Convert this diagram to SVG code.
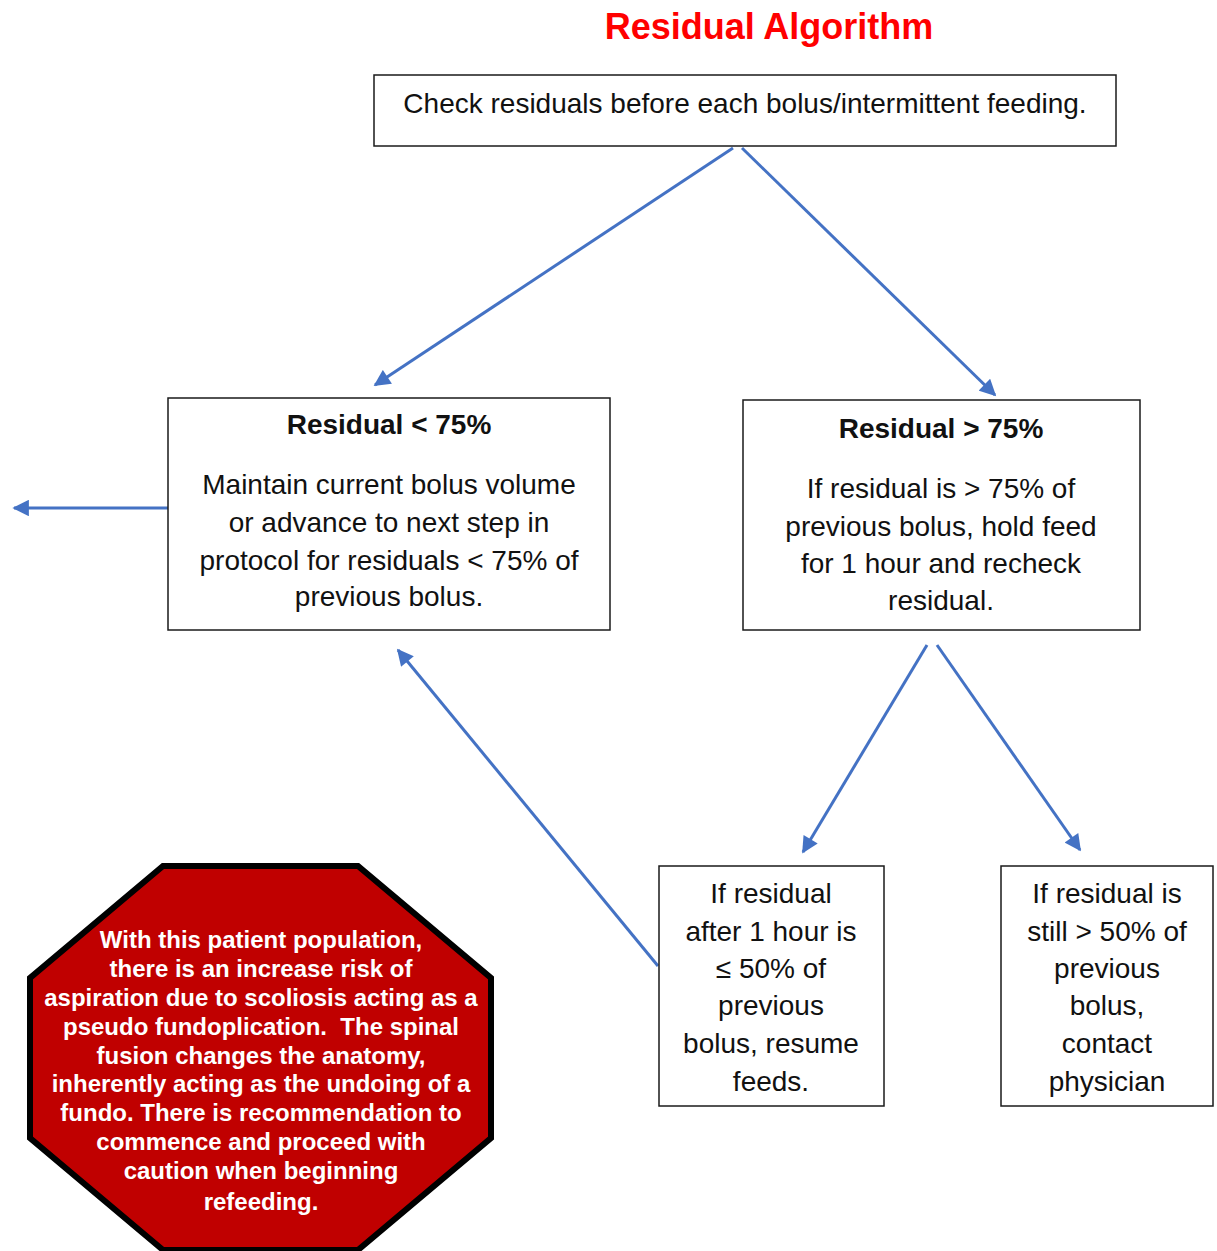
<svg xmlns="http://www.w3.org/2000/svg" width="1217" height="1251" viewBox="0 0 1217 1251">
<style>
.box{fill:#fff;stroke:#1a1a1a;stroke-width:1.5}
.t{font-family:"Liberation Sans",Arial,sans-serif;font-size:28px;fill:#111;text-anchor:middle}
.b{font-weight:bold}
.w{font-family:"Liberation Sans",Arial,sans-serif;font-size:24px;font-weight:bold;fill:#fff;text-anchor:middle}
.c{stroke:#4472C4;stroke-width:3;fill:none;marker-end:url(#ah)}
</style>
<defs>
<marker id="ah" viewBox="0 0 10 10" refX="9" refY="5" markerWidth="6" markerHeight="5.5" orient="auto" markerUnits="strokeWidth">
<path d="M0,0 L10,5 L0,10 z" fill="#4472C4"/>
</marker>
</defs>
<text x="769" y="39" font-family="Liberation Sans,Arial,sans-serif" font-size="36" font-weight="bold" fill="#FF0000" text-anchor="middle">Residual Algorithm</text>
<g id="connectors">
<line class="c" x1="733" y1="148" x2="375" y2="385"/>
<line class="c" x1="742" y1="148" x2="995" y2="395"/>
<line class="c" x1="168" y1="508" x2="14" y2="508"/>
<line class="c" x1="927" y1="645" x2="803" y2="852"/>
<line class="c" x1="937" y1="645" x2="1080" y2="850"/>
<line class="c" x1="658" y1="966" x2="398" y2="650"/>
</g>
<g id="check">
<rect class="box" x="374" y="75" width="742" height="71"/>
<text class="t" x="745" y="113">Check residuals before each bolus/intermittent feeding.</text>
</g>
<g id="less75">
<rect class="box" x="168" y="398" width="442" height="232"/>
<text class="t b" x="389" y="434">Residual &lt; 75%</text>
<text class="t" x="389" y="494">Maintain current bolus volume</text>
<text class="t" x="389" y="532">or advance to next step in</text>
<text class="t" x="389" y="570">protocol for residuals &lt; 75% of</text>
<text class="t" x="389" y="606">previous bolus.</text>
</g>
<g id="more75">
<rect class="box" x="743" y="400" width="397" height="230"/>
<text class="t b" x="941" y="438">Residual &gt; 75%</text>
<text class="t" x="941" y="498">If residual is &gt; 75% of</text>
<text class="t" x="941" y="536">previous bolus, hold feed</text>
<text class="t" x="941" y="573">for 1 hour and recheck</text>
<text class="t" x="941" y="610">residual.</text>
</g>
<g id="resume">
<rect class="box" x="659" y="866" width="225" height="240"/>
<text class="t" x="771" y="903">If residual</text>
<text class="t" x="771" y="941">after 1 hour is</text>
<text class="t" x="771" y="978">≤ 50% of</text>
<text class="t" x="771" y="1015">previous</text>
<text class="t" x="771" y="1053">bolus, resume</text>
<text class="t" x="771" y="1091">feeds.</text>
</g>
<g id="contact">
<rect class="box" x="1001" y="866" width="212" height="240"/>
<text class="t" x="1107" y="903">If residual is</text>
<text class="t" x="1107" y="941">still &gt; 50% of</text>
<text class="t" x="1107" y="978">previous</text>
<text class="t" x="1107" y="1015">bolus,</text>
<text class="t" x="1107" y="1053">contact</text>
<text class="t" x="1107" y="1091">physician</text>
</g>
<g id="warning">
<polygon points="163,866 358,866 491,978 491,1138 358,1250 163,1250 30,1138 30,978" fill="#C00000" stroke="#000" stroke-width="6" stroke-linejoin="miter"/>
<text class="w" x="261" y="948">With this patient population,</text>
<text class="w" x="261" y="977">there is an increase risk of</text>
<text class="w" x="261" y="1006">aspiration due to scoliosis acting as a</text>
<text class="w" x="261" y="1035" xml:space="preserve">pseudo fundoplication.  The spinal</text>
<text class="w" x="261" y="1064">fusion changes the anatomy,</text>
<text class="w" x="261" y="1092">inherently acting as the undoing of a</text>
<text class="w" x="261" y="1121">fundo. There is recommendation to</text>
<text class="w" x="261" y="1150">commence and proceed with</text>
<text class="w" x="261" y="1179">caution when beginning</text>
<text class="w" x="261" y="1210">refeeding.</text>
</g>
</svg>
